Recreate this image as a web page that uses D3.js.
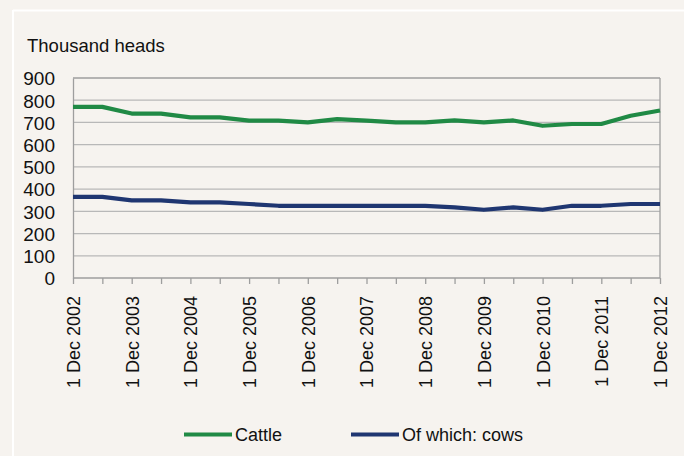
<!DOCTYPE html>
<html>
<head>
<meta charset="utf-8">
<script src="https://cdn.jsdelivr.net/npm/d3@7"></script>
<style>
  body { margin: 0; background: #f6f3ef; }
  svg { display: block; font-family: "Liberation Sans", Arial, sans-serif; }
</style>
</head>
<body>
<div id="chart"></div>
<script>
// Half-yearly points, 1 Dec 2002 .. 1 Dec 2012
const periods = [
  "Dec 2002", "Jun 2003", "Dec 2003", "Jun 2004", "Dec 2004", "Jun 2005",
  "Dec 2005", "Jun 2006", "Dec 2006", "Jun 2007", "Dec 2007", "Jun 2008",
  "Dec 2008", "Jun 2009", "Dec 2009", "Jun 2010", "Dec 2010", "Jun 2011",
  "Dec 2011", "Jun 2012", "Dec 2012"
];

const cattle = [770, 770, 740, 740, 723, 723, 708, 708, 700, 715, 708,
  700, 700, 709, 700, 709, 685, 693, 693, 730, 754];

const cows = [365, 365, 349, 349, 340, 340, 333, 325, 325, 325, 325,
  325, 325, 318, 307, 318, 307, 325, 325, 333, 333];

const yTicks = [0, 100, 200, 300, 400, 500, 600, 700, 800, 900];

const series = [
  { name: "Cattle", values: cattle, color: "#208a45" },
  { name: "Of which: cows", values: cows, color: "#1f3671" }
];

const width = 684;
const height = 456;

const margin = { top: 78, right: 24, bottom: 178, left: 73 };

const svg = d3.select("#chart")
  .append("svg")
  .attr("width", width)
  .attr("height", height);

// white frame lines
svg.append("line")
  .attr("x1", 13).attr("x2", 13)
  .attr("y1", 10).attr("y2", height)
  .style("stroke", "#fff").style("stroke-width", 2);
svg.append("line")
  .attr("x1", 13).attr("x2", width)
  .attr("y1", 10.5).attr("y2", 10.5)
  .style("stroke", "#fff").style("stroke-width", 2);

const plotW = width - margin.left - margin.right;
const plotH = height - margin.top - margin.bottom;

const g = svg.append("g")
  .attr("transform", `translate(${margin.left}, ${margin.top})`);

const xScale = d3.scalePoint()
  .domain(periods)
  .range([0, plotW]);

const yScale = d3.scaleLinear()
  .domain([0, 900])
  .range([plotH, 0]);

// gridlines
g.selectAll(".grid")
  .data(yTicks.filter(t => t > 0))
  .enter()
  .append("line")
  .attr("class", "grid")
  .attr("x1", 0)
  .attr("x2", plotW)
  .attr("y1", d => yScale(d))
  .attr("y2", d => yScale(d))
  .style("stroke", d => d === 900 ? "#9e9e9e" : "#b8b8b8")
  .style("stroke-width", 1.3);

// right border
g.append("line")
  .attr("x1", plotW).attr("x2", plotW)
  .attr("y1", 0).attr("y2", plotH)
  .style("stroke", "#9e9e9e")
  .style("stroke-width", 1.3);

// Y axis
const yAxis = g.append("g")
  .call(d3.axisLeft(yScale).tickValues(yTicks).tickSize(0).tickPadding(18));
yAxis.select(".domain")
  .style("stroke", "#9e9e9e")
  .style("stroke-width", 1.3);
yAxis.selectAll("text")
  .style("font-size", "19px")
  .style("fill", "#111")
  .attr("dy", "0.36em");

// X axis
const xAxis = g.append("g")
  .attr("transform", `translate(0, ${plotH})`)
  .call(d3.axisBottom(xScale).tickSize(6).tickFormat(d => d.startsWith("Dec") ? "1 " + d : ""));
xAxis.select(".domain")
  .attr("d", `M0,0H${plotW}`)
  .style("stroke", "#9e9e9e")
  .style("stroke-width", 1.3);
xAxis.selectAll(".tick line")
  .style("stroke", "#9e9e9e")
  .style("stroke-width", 1.3);
xAxis.selectAll("text")
  .style("font-size", "18px")
  .style("fill", "#111")
  .style("text-anchor", "end")
  .attr("transform", "rotate(-90)")
  .attr("x", -18)
  .attr("y", 0)
  .attr("dy", "0.36em");

// lines
const line = d3.line()
  .x((d, i) => xScale(periods[i]))
  .y(d => yScale(d));

series.forEach(s => {
  g.append("path")
    .datum(s.values)
    .attr("d", line)
    .style("fill", "none")
    .style("stroke", s.color)
    .style("stroke-width", 4.2)
    .style("stroke-linejoin", "round");
});

// legend
const legendPos = [184, 351];
series.forEach((s, i) => {
  const lg = svg.append("g")
    .attr("transform", `translate(${legendPos[i]}, 434.5)`);
  lg.append("line")
    .attr("x1", 0).attr("x2", 48)
    .style("stroke", s.color)
    .style("stroke-width", 4.2);
  lg.append("text")
    .attr("x", 51)
    .attr("y", 0)
    .attr("dy", "0.36em")
    .style("font-size", "18px")
    .style("fill", "#111")
    .text(s.name);
});

// unit label
svg.append("text")
  .attr("x", 27)
  .attr("y", 52)
  .style("font-size", "18.5px")
  .style("fill", "#111")
  .text("Thousand heads");
</script>
</body>
</html>
